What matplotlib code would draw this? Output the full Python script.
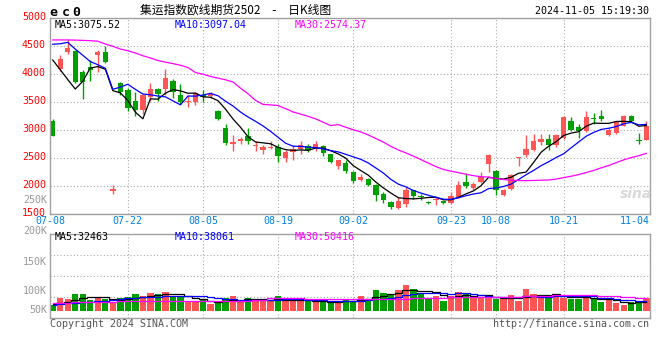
import matplotlib
matplotlib.use('Agg')
import matplotlib.pyplot as plt
import matplotlib.transforms as mtransforms
import numpy as np

plt.rcParams['font.family'] = ['DejaVu Sans Mono', 'Noto Sans CJK SC']

title = '集运指数欧线期货2502\u3000-\u3000日K线图'
code = 'ec0'
stamp = '2024-11-05 15:19:30'

# daily OHLC, 07-08 .. 11-05
opens = [3155, 4095, 4393, 4422, 4047, 4137, 4345, 4405, 1917, 3839,
         3720, 3524, 3363, 3601, 3738, 3732, 3881, 3631, 3500, 3500,
         3631, 3613, 3345, 3036, 2756, 2798, 2899, 2708, 2649, 2678,
         2696, 2500, 2607, 2661, 2720, 2667, 2720, 2571, 2351, 2411,
         2244, 2101, 2131, 2024, 1863, 1714, 1607, 1685, 1923, 1827,
         1714, 1756, 1726, 1690, 1798, 2065, 1964, 2065, 2399, 2262,
         1845, 1952, 2500, 2559, 2649, 2780, 2845, 2738, 2857, 3167,
         3053, 2976, 3214, 3256, 2905, 2946, 3077, 3256, 2827, 2827]
highs = [3202, 4345, 4625, 4440, 4077, 4256, 4434, 4506, 2024, 3869,
         3750, 3678, 3640, 3839, 3750, 4095, 3911, 3821, 3631, 3678,
         3720, 3678, 3363, 3113, 2905, 2869, 3036, 2798, 2738, 2798,
         2756, 2649, 2726, 2798, 2756, 2798, 2726, 2580, 2465, 2470,
         2262, 2220, 2143, 2036, 1887, 1726, 1798, 1976, 1934, 1863,
         1738, 1798, 1738, 1893, 2095, 2232, 2065, 2244, 2571, 2292,
         1952, 2214, 2515, 2917, 2934, 2934, 2934, 2925, 3244, 3226,
         3113, 3351, 3315, 3363, 3036, 3155, 3262, 3274, 2946, 3167]
lows = [2887, 4065, 4357, 3850, 3559, 3887, 4047, 4208, 1863, 3631,
        3345, 3244, 3286, 3524, 3524, 3631, 3571, 3464, 3405, 3450,
        3500, 3571, 3184, 2738, 2619, 2750, 2756, 2631, 2571, 2667,
        2429, 2429, 2470, 2571, 2607, 2619, 2530, 2420, 2310, 2232,
        2054, 2083, 2000, 1726, 1696, 1589, 1595, 1619, 1774, 1756,
        1673, 1655, 1679, 1679, 1786, 1964, 1923, 2054, 2244, 1833,
        1815, 1934, 2351, 2512, 2619, 2738, 2649, 2696, 2845, 2988,
        2857, 2964, 3107, 3167, 2899, 2934, 3065, 3143, 2750, 2815]
closes = [2887, 4274, 4464, 3869, 3869, 4077, 4405, 4226, 1952, 3673,
          3393, 3363, 3631, 3738, 3643, 3928, 3690, 3512, 3524, 3660,
          3589, 3655, 3202, 2768, 2780, 2845, 2809, 2738, 2690, 2696,
          2530, 2601, 2667, 2738, 2649, 2750, 2589, 2429, 2458, 2262,
          2083, 2155, 2012, 1845, 1744, 1619, 1738, 1934, 1815, 1798,
          1690, 1774, 1690, 1815, 2024, 1994, 2042, 2155, 2559, 1934,
          1934, 2202, 2512, 2667, 2798, 2845, 2738, 2917, 3226, 3006,
          2976, 3226, 3196, 3202, 3006, 3143, 3244, 3155, 2798, 3077]
volumes = [22000, 50000, 45000, 63000, 63000, 41000, 47000, 45000, 32000, 48000,
           52000, 63000, 56000, 66000, 63000, 71000, 53000, 56000, 37000, 33000,
           41000, 26000, 30000, 48000, 56000, 33000, 48000, 40000, 40000, 36000,
           56000, 40000, 40000, 40000, 36000, 33000, 33000, 33000, 33000, 45000,
           35000, 57000, 45000, 78000, 68000, 60000, 78000, 97000, 82000, 62000,
           50000, 57000, 37000, 57000, 72000, 67000, 53000, 50000, 50000, 45000,
           45000, 60000, 37000, 82000, 63000, 50000, 56000, 56000, 50000, 45000,
           45000, 56000, 45000, 32000, 41000, 29000, 22000, 32000, 37000, 47000]

# moving-average values before enough days are in the window
ma5_head = [4255, 4080, 3905, 3735]
ma10_head = [4536, 4545, 4570, 4450, 4340, 4226, 4170, 4107, 3730]
ma30_head = [4613, 4613, 4613, 4610, 4605, 4600, 4590, 4540, 4500, 4450,
             4420, 4380, 4330, 4290, 4245, 4215, 4190, 4160, 4120, 4030,
             4000, 3960, 3930, 3900, 3860, 3750, 3650, 3530, 3460]
vma5_head = [27000, 30000, 33000, 40000]
vma10_head = [24000, 27000, 29000, 31000, 33000, 35000, 37000, 38000, 40000]
vma30_head = [29000, 29000, 31000, 32000, 32000, 33000, 34000, 35000, 35000, 36000,
              36000, 36000, 37000, 37000, 37000, 37000, 37000, 37000, 37000, 37000,
              37000, 37000, 38000, 38000, 38000, 38000, 38000, 41000, 42000]

ma_price_text = ['MA5:3075.52', 'MA10:3097.04', 'MA30:2574.37']
ma_vol_text = ['MA5:32463', 'MA10:38061', 'MA30:50416']

date_pos = [0, 10, 20, 30, 40, 53, 59, 68, 78]
date_labels = ['07-08', '07-22', '08-05', '08-19', '09-02', '09-23', '10-08', '10-21', '11-04']
price_ticks = [1500, 2000, 2500, 3000, 3500, 4000, 4500, 5000]
vol_labels = ['250K', '200K', '150K', '100K', '50K']
vol_label_y = [1.41, 1.04, 0.668, 0.32, 0.092]

RED = '#ff5555'
GREEN = '#00a000'
GRID = '#aaaaaa'
BORDER = '#a0a0a0'
MA_COLORS = ['black', '#0000ff', '#ff00ff']


def moving_avg(values, n, head):
    out = list(head)
    for i in range(n - 1, len(values)):
        out.append(np.mean(values[i - n + 1:i + 1]))
    return np.array(out)


W, H = 660, 360


def box(l, t, r, b):
    return [l / W, 1 - b / H, (r - l) / W, (b - t) / H]


def ftext(x, y, s, **kw):
    fig.text(x / W, 1 - y / H, s, **kw)


fig = plt.figure(figsize=(6.6, 3.6), dpi=100)
ax = fig.add_axes(box(50, 18.3, 650, 214))
axv = fig.add_axes(box(50, 234.3, 650, 317.7))

x = np.arange(len(closes))
o, h, l, c = np.array(opens), np.array(highs), np.array(lows), np.array(closes)
v = np.array(volumes)
colors = np.where(c >= o, RED, GREEN)

# price panel
ax.vlines(x, l, h, colors=colors, lw=1, zorder=2)
ax.bar(x, np.maximum(np.abs(c - o), 20), 0.72, bottom=np.minimum(o, c),
       color=colors, lw=0, zorder=2)
for n, head, col in zip([5, 10, 30], [ma5_head, ma10_head, ma30_head], MA_COLORS):
    ax.plot(x, moving_avg(c, n, head), color=col, lw=0.9, zorder=3)

ax.set_xlim(-0.36, 79.49)
ax.set_ylim(1500, 5000)
ax.set_yticks(price_ticks)
ax.set_yticklabels([str(t) for t in price_ticks])
ax.set_xticks([])
ax.tick_params(axis='y', length=0, pad=3, labelsize=7.2, labelcolor='#ff0000')
shift = mtransforms.ScaledTranslation(0, 0.022, fig.dpi_scale_trans)
for lbl in ax.get_yticklabels():
    lbl.set_transform(lbl.get_transform() + shift)
ax.grid(axis='y', color=GRID, ls=(0, (1, 2)), lw=0.8, zorder=0)
for p in date_pos[1:-1]:
    ax.axvline(p, color=GRID, ls=(0, (1, 2)), lw=0.8, zorder=0)

for i, (p, s) in enumerate(zip(date_pos, date_labels)):
    if i == 0:
        ax.text(ax.get_xlim()[0], -0.036, s, transform=ax.get_xaxis_transform(),
                ha='center', va='center', fontsize=7.2, color='#0080e0')
    elif i == len(date_pos) - 1:
        ax.text(ax.get_xlim()[1], -0.036, s, transform=ax.get_xaxis_transform(),
                ha='right', va='center', fontsize=7.2, color='#0080e0')
    else:
        ax.text(p, -0.036, s, transform=ax.get_xaxis_transform(),
                ha='center', va='center', fontsize=7.2, color='#0080e0')

# volume panel
axv.bar(x, v, 0.85, color=colors, lw=0, zorder=2)
for n, head, col in zip([5, 10, 30], [vma5_head, vma10_head, vma30_head], MA_COLORS):
    axv.plot(x, moving_avg(v, n, head), color=col, lw=0.9, drawstyle='steps-mid', zorder=3)
axv.set_xlim(-0.36, 79.49)
axv.set_ylim(-25000, 285000)
axv.set_xticks([])
axv.set_yticks([])
for f in [0.25, 0.5, 0.75]:
    axv.plot([0, 1], [f, f], transform=axv.transAxes, color=GRID, ls=(0, (1, 2)), lw=0.8, zorder=0)
for p in date_pos[1:-1]:
    axv.axvline(p, color=GRID, ls=(0, (1, 2)), lw=0.8, zorder=0)
for s, f in zip(vol_labels, vol_label_y):
    axv.text(-3 / 600, f, s, transform=axv.transAxes, ha='right', va='center',
             fontsize=7.2, color='#999999', clip_on=False)

for a in [ax, axv]:
    for sp in a.spines.values():
        sp.set_color(BORDER)
        sp.set_linewidth(1)

# header and footer texts
for ch, cx in zip(code, [53.3, 65.5, 76.3]):
    ftext(cx, 16, ch, ha='center', va='baseline', fontsize=9.5, fontweight='bold')
ftext(140, 10, title, ha='left', va='center', fontsize=8.5,
      family=['Noto Sans CJK SC', 'DejaVu Sans'])
ftext(649, 11.5, stamp, ha='right', va='center', fontsize=7.2)
for s, col, px in zip(ma_price_text, MA_COLORS, [54.3, 174.3, 295]):
    ftext(px, 24.5, s, ha='left', va='center', fontsize=7.2, color=col)
for s, col, px in zip(ma_vol_text, MA_COLORS, [55, 175, 295]):
    ftext(px, 237.5, s, ha='left', va='center', fontsize=7.2, color=col)
ftext(636, 194, 'sina', ha='center', va='center', fontsize=10, color='#d8d8d8',
      style='italic', fontweight='bold', family='DejaVu Sans')
ftext(50, 323.7, 'Copyright 2024 SINA.COM', ha='left', va='center', fontsize=7.2, color='#555555')
ftext(649, 324, 'http://finance.sina.com.cn', ha='right', va='center', fontsize=7.2, color='#555555')

fig.savefig('out.png', dpi=100, facecolor='white')
